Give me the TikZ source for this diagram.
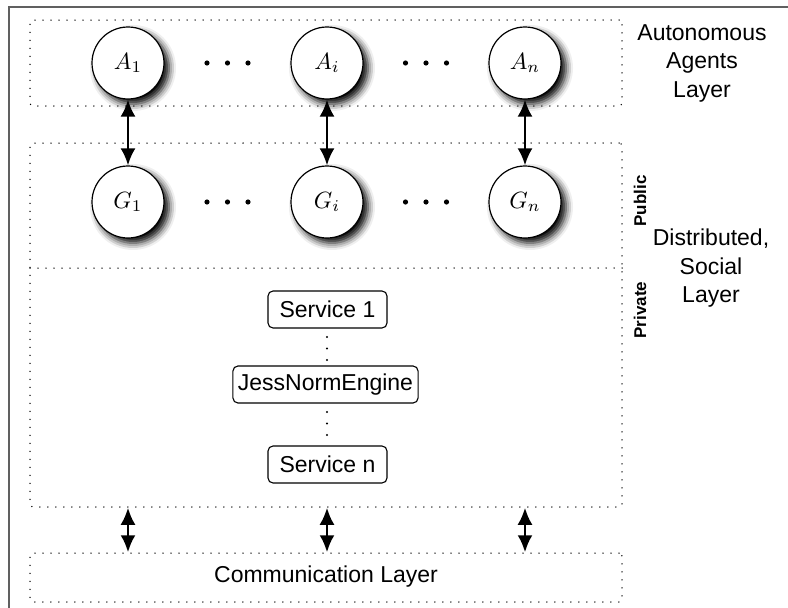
\documentclass[tikz,border=0pt]{standalone}
\usepackage{fix-cm}
\usepackage{graphicx}
\usepackage[no-math]{fontspec}
\newfontfamily\helv{Liberation Sans}
\usetikzlibrary{arrows.meta,shadows.blur}
\newcommand{\agentlabel}[1]{\scalebox{2.35}{$#1$}}

\begin{document}
\begin{tikzpicture}[x=1pt,y=-1pt,
  dotline/.style={line width=1.5pt, dash pattern=on 0pt off 8pt, line cap=round},
  layerbox/.style={dotline, draw, rounded corners=3pt, inner sep=0pt},
  agent/.style={circle, draw, line width=1.2pt, fill=white, minimum size=72pt, inner sep=0pt,
    blur shadow={shadow xshift=5pt, shadow yshift=-5pt, shadow blur radius=7pt, shadow opacity=100}},
  svc/.style={draw, rounded corners=5pt, line width=1.1pt, minimum height=37pt,
    inner xsep=5pt, inner ysep=0pt, font=\helv\fontsize{23}{27}\selectfont},
  lbl/.style={align=center, inner sep=0pt, font=\helv\fontsize{23}{28.5}\selectfont},
  tag/.style={rotate=90, inner sep=0pt, font=\helv\bfseries\fontsize{17}{20}\selectfont},
  arr/.style={line width=2.5pt, {Latex[length=17pt,width=15pt]}-{Latex[length=17pt,width=15pt]}}
]
\useasboundingbox (0,0) rectangle (788,608);

% frame
\draw[gray!75!black, line width=1.5pt] (9,612) -- (9,7) -- (792,7);

% layer boxes
\node[layerbox, minimum width=592pt, minimum height=86pt] (top) at (326,63) {};
\node[layerbox, minimum width=592pt, minimum height=364pt] (mid) at (326,325) {};
\node[layerbox, minimum width=592pt, minimum height=49pt] (comm) at (326,577.5) {};
\coordinate (divL) at (30,268);
\coordinate (divR) at (622,268);
\draw[dotline] (divL) -- (divR);

% agents and their governors
\node[agent] (A1) at (128,63) {\agentlabel{A_1}};
\node[agent] (Ai) at (327,63) {\agentlabel{A_i}};
\node[agent] (An) at (525,63) {\agentlabel{A_n}};
\node[agent] (G1) at (128,202) {\agentlabel{G_1}};
\node[agent] (Gi) at (327,202) {\agentlabel{G_i}};
\node[agent] (Gn) at (525,202) {\agentlabel{G_n}};

\foreach \cx/\cy in {227.5/63, 426/63, 227.5/202, 426/202}
  \foreach \d in {-20.5,0,20.5}
    \fill (\cx+\d,\cy) circle (2.6pt);

\draw[arr] (A1.south) -- (G1.north);
\draw[arr] (Ai.south) -- (Gi.north);
\draw[arr] (An.south) -- (Gn.north);

% services
\node[svc, minimum width=119pt] (s1) at (327.5,309.5) {Service 1};
\node[svc] (jne) at (325.5,384.5) {JessNormEngine};
\node[svc, minimum width=119pt] (sn) at (327.5,464.5) {Service n};
\foreach \y in {337,348.5,360,412,423.5,435}
  \fill (327,\y) circle (1.1pt);

% communication
\node[lbl] (commtxt) at (326,577) {Communication Layer};
\draw[arr] (mid.south -| A1) -- (comm.north -| A1);
\draw[arr] (mid.south -| Ai) -- (comm.north -| Ai);
\draw[arr] (mid.south -| An) -- (comm.north -| An);

% labels
\node[lbl] (aal) at (702,63) {Autonomous\\Agents\\Layer};
\node[lbl] (dsl) at (711,268.5) {Distributed,\\Social\\Layer};
\node[tag] (pub) at (640,201) {Public};
\node[tag] (priv) at (640,310) {Private};
\end{tikzpicture}
\end{document}
